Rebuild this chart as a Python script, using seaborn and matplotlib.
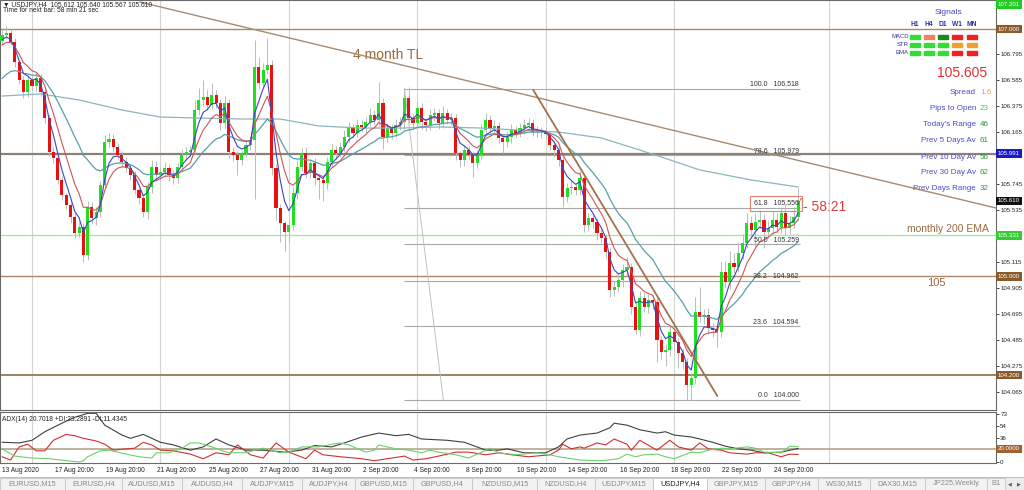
import numpy as np
import pandas as pd
import matplotlib
matplotlib.use("Agg")
import matplotlib.pyplot as plt
import matplotlib.transforms as mtransforms
from matplotlib.patches import Rectangle
import seaborn as sns

# --- 1. DATA (USDJPY H4) ---
first_open = 106.900
closes = [
    106.952, 106.968, 106.895, 106.733, 106.588, 106.491, 106.588, 106.539, 106.604, 106.491,
    106.280, 106.005, 105.957, 105.779, 105.657, 105.577, 105.479, 105.350, 105.399, 105.172,
    105.560, 105.471, 105.520, 105.738, 106.086, 106.110, 106.046, 105.981, 105.924, 105.876,
    105.819, 105.698, 105.633, 105.520, 105.722, 105.884, 105.819, 105.844, 105.876, 105.819,
    105.795, 105.884, 105.981, 106.005, 106.021, 106.345, 106.426, 106.450, 106.386, 106.466,
    106.402, 106.240, 106.402, 106.005, 105.981, 105.941, 105.997, 106.062, 106.102, 106.693,
    106.564, 106.669, 106.709, 105.876, 105.552, 105.431, 105.358, 105.415, 105.674, 105.884,
    105.997, 105.835, 105.916, 105.795, 105.779, 105.755, 105.924, 106.021, 105.997, 106.046,
    106.127, 106.199, 106.159, 106.224, 106.208, 106.248, 106.305, 106.264, 106.402, 106.127,
    106.199, 106.159, 106.224, 106.248, 106.442, 106.280, 106.240, 106.361, 106.248, 106.224,
    106.305, 106.321, 106.240, 106.321, 106.264, 106.280, 105.997, 105.941, 106.021, 105.981,
    105.916, 105.981, 106.183, 106.264, 106.199, 106.216, 106.119, 106.086, 106.127, 106.183,
    106.159, 106.199, 106.224, 106.240, 106.167, 106.175, 106.167, 106.151, 106.062, 106.021,
    105.941, 105.641, 105.714, 105.722, 105.698, 105.795, 105.415, 105.471, 105.439, 105.350,
    105.310, 105.196, 104.889, 104.913, 104.970, 105.051, 105.075, 104.751, 104.565, 104.824,
    104.751, 104.808, 104.792, 104.484, 104.387, 104.403, 104.549, 104.468, 104.379, 104.306,
    104.120, 104.177, 104.711, 104.670, 104.687, 104.581, 104.565, 104.549, 105.035, 104.954,
    105.107, 105.075, 105.188, 105.269, 105.431, 105.374, 105.439, 105.455, 105.358, 105.390,
    105.455, 105.399, 105.512, 105.390, 105.431, 105.479, 105.610,
]
# wick lengths in pips above / below the body
up_wick = [
    4, 6, 3, 3, 2, 3, 4, 3, 5, 3,
    2, 3, 4, 3, 3, 2, 3, 3, 4, 3,
    5, 4, 4, 3, 6, 5, 4, 3, 3, 4,
    3, 3, 2, 3, 4, 6, 5, 4, 5, 3,
    4, 3, 5, 4, 3, 8, 10, 14, 6, 10,
    4, 3, 6, 3, 4, 3, 2, 4, 3, 22,
    8, 6, 22, 4, 3, 3, 2, 4, 5, 6,
    4, 5, 3, 4, 3, 3, 4, 5, 3, 4,
    6, 5, 3, 5, 4, 4, 6, 4, 17, 4,
    4, 3, 5, 4, 8, 9, 3, 5, 4, 3,
    5, 4, 3, 6, 3, 4, 3, 2, 4, 3,
    3, 4, 5, 6, 4, 5, 3, 3, 4, 5,
    3, 4, 5, 4, 3, 4, 3, 3, 2, 3,
    3, 2, 4, 5, 3, 6, 3, 4, 3, 3,
    3, 2, 4, 5, 6, 5, 8, 3, 3, 6,
    4, 5, 4, 3, 3, 5, 6, 4, 3, 3,
    3, 4, 12, 20, 5, 6, 4, 5, 8, 9,
    10, 8, 9, 7, 8, 6, 7, 8, 5, 6,
    7, 6, 5, 7, 6, 8, 10,
]
dn_wick = [
    3, 3, 2, 4, 3, 5, 4, 3, 4, 3,
    4, 3, 4, 3, 4, 3, 5, 4, 3, 6,
    4, 5, 6, 4, 3, 4, 3, 3, 4, 3,
    4, 3, 5, 4, 6, 5, 4, 3, 4, 5,
    5, 4, 3, 4, 3, 3, 4, 5, 4, 3,
    4, 6, 4, 5, 5, 12, 4, 3, 4, 48,
    5, 4, 3, 6, 10, 15, 15, 8, 4, 5,
    3, 4, 4, 6, 15, 15, 5, 4, 5, 3,
    4, 5, 4, 3, 4, 5, 3, 4, 5, 10,
    4, 5, 3, 4, 6, 4, 5, 4, 6, 5,
    4, 5, 5, 4, 3, 4, 6, 6, 5, 4,
    11, 4, 3, 5, 4, 3, 4, 9, 4, 5,
    4, 3, 5, 4, 3, 4, 5, 3, 4, 6,
    5, 8, 4, 5, 4, 4, 6, 5, 5, 6,
    4, 5, 6, 5, 4, 6, 5, 6, 3, 5,
    4, 5, 6, 18, 6, 11, 5, 6, 12, 6,
    12, 12, 5, 4, 6, 5, 6, 12, 4, 5,
    6, 5, 4, 5, 4, 6, 14, 5, 13, 5,
    6, 5, 5, 6, 5, 4, 3,
]

# moving averages: value of each EMA just before the first visible bar
fast_span, mid_span, slow_span = 4, 8, 21
fast_seed, mid_seed, slow_seed = 106.887, 106.847, 106.564
long_ema_bars = [0, 9, 18, 28, 37, 46, 56, 65, 74, 84, 93, 102, 112, 116, 130, 140, 149, 154, 163, 175, 186]
long_ema_vals = [106.458, 106.475, 106.426, 106.345, 106.288, 106.280, 106.272, 106.272, 106.216, 106.199,
                 106.199, 106.208, 106.199, 106.191, 106.167, 106.119, 106.021, 105.965, 105.860, 105.779, 105.722]

# ADX(14) panel
adx_bars = [0, 4, 7, 10, 14, 17, 20, 22, 24, 28, 30, 32, 33, 37, 40, 44, 47, 50, 53, 57,
            61, 66, 70, 73, 77, 80, 84, 88, 92, 95, 98, 104, 108, 113, 116, 118, 122, 127, 130, 132,
            135, 139, 142, 143, 146, 149, 153, 155, 157, 161, 163, 166, 169, 172, 175, 178, 182, 186]
adx_vals = [30, 29, 33, 46, 59, 68, 74, 74, 56, 41, 36, 40, 42, 30, 26, 18, 23, 35, 26, 18,
            18, 15, 18, 25, 23, 29, 38, 44, 40, 42, 35, 33, 30, 18, 18, 20, 14, 14, 23, 35,
            41, 44, 52, 59, 56, 49, 44, 46, 41, 38, 35, 30, 24, 20, 18, 14, 15, 20.7]
mdi_bars = [0, 2, 4, 6, 8, 10, 12, 15, 17, 19, 22, 24, 26, 29, 31, 33, 35, 37, 40, 44,
            47, 50, 53, 55, 58, 61, 64, 67, 71, 73, 75, 79, 84, 87, 91, 94, 96, 99, 102, 106,
            109, 113, 116, 119, 123, 128, 130, 131, 133, 135, 136, 139, 141, 143, 146, 147, 149, 153, 156, 158,
            161, 163, 165, 168, 170, 174, 176, 179, 182, 184, 186]
mdi_vals = [8, 3, 23, 27, 17, 17, 33, 42, 40, 36, 32, 27, 18, 20, 21, 30, 26, 18, 17, 12,
            5, 14, 11, 26, 11, 6, 29, 15, 5, 18, 11, 8, 5, 2, 6, 9, 3, 5, 9, 15,
            15, 11, 14, 11, 8, 11, 18, 27, 20, 23, 21, 29, 26, 35, 27, 18, 33, 18, 33, 23,
            18, 29, 20, 18, 14, 12, 14, 14, 8, 12, 11.4]
pdi_bars = [0, 3, 7, 11, 18, 19, 20, 23, 25, 29, 32, 35, 36, 39, 42, 44, 46, 49, 51, 53,
            57, 59, 61, 65, 67, 70, 74, 77, 79, 81, 85, 87, 88, 92, 95, 98, 100, 102, 106, 109,
            112, 114, 116, 120, 125, 128, 130, 135, 140, 144, 146, 148, 150, 153, 155, 157, 161, 163, 165, 168,
            170, 174, 176, 178, 182, 184, 186]
pdi_vals = [20, 9, 6, 5, 0, 2, 8, 17, 18, 12, 8, 6, 14, 14, 21, 29, 29, 23, 18, 14,
            14, 18, 21, 14, 15, 23, 23, 27, 29, 26, 15, 18, 26, 20, 18, 14, 18, 15, 11, 6,
            15, 21, 14, 11, 14, 11, 8, 3, 2, 5, 12, 8, 11, 12, 8, 5, 15, 14, 18, 21,
            20, 23, 21, 15, 14, 24, 23.3]
adx_level = 20

# drawn objects
fib_levels = [100.0, 78.6, 61.8, 50.0, 38.2, 23.6, 0.0]
fib_prices = [106.518, 105.979, 105.556, 105.259, 104.962, 104.594, 104.000]
fib_span = [94, 186.5]
fib_anchor_bars = [94, 103.1]
fib_anchor_prices = [106.518, 104.000]
tl4m_bars = [32.2, 232.2]
tl4m_prices = [107.219, 105.552]
tl_down_bars = [124.1, 167.1]
tl_down_prices = [106.507, 104.031]
level_prices = [107.000, 105.991, 105.331, 105.000, 104.200]
level_colors = ["#a8876a", "#8c8078", "#a8e6a8", "#a8876a", "#a0805f"]
level_widths = [1.0, 1.6, 1.0, 1.0, 1.4]

axis_ticks = [106.795, 106.585, 106.375, 106.165, 105.745, 105.535,
              105.115, 104.905, 104.695, 104.485, 104.275, 104.065]
box_prices = [107.201, 107.000, 105.991, 105.610, 105.331, 105.000, 104.200]
box_colors = ["#22cc22", "#8b5a2b", "#1a1acc", "#111111", "#33cc33", "#8b5a2b", "#8b5a2b"]
adx_ticks = [73, 54, 36, 18, 0]

date_bars = [0, 13, 25, 37, 49, 61, 73, 85, 97, 109, 121, 133, 145, 157, 169, 181]
date_labels = ["13 Aug 2020", "17 Aug 20:00", "19 Aug 20:00", "21 Aug 20:00", "25 Aug 20:00",
               "27 Aug 20:00", "31 Aug 20:00", "2 Sep 20:00", "4 Sep 20:00", "8 Sep 20:00",
               "10 Sep 20:00", "14 Sep 20:00", "16 Sep 20:00", "18 Sep 20:00", "22 Sep 20:00",
               "24 Sep 20:00"]
grid_bars = [7, 37, 67, 97, 127, 157, 193.2]

stat_labels = ["Spread", "Pips to Open", "Today's Range", "Prev 5 Days Av",
               "Prev 10 Day Av", "Prev 30 Day Av", "Prev Days Range"]
stat_values = ["1.6", "23", "46", "61", "56", "62", "32"]
stat_colors = ["#e8a040", "#3ad23a", "#2a9a2a", "#2a9a2a", "#2a9a2a", "#2a9a2a", "#2a9a2a"]
signal_cols = ["H1", "H4", "D1", "W1", "MN"]
signal_rows = ["MACD", "STR", "EMA"]
signal_colors = [
    ["#33dd33", "#f08060", "#1a8a1a", "#ee2222", "#ee2222"],
    ["#33dd33", "#33dd33", "#33dd33", "#f0a030", "#f0a030"],
    ["#33dd33", "#33dd33", "#33dd33", "#ee2222", "#ee2222"],
]

tab_names = ["EURUSD,M15", "EURUSD,H4", "AUDUSD,M15", "AUDUSD,H4", "AUDJPY,M15", "AUDJPY,H4",
             "GBPUSD,M15", "GBPUSD,H4", "NZDUSD,M15", "NZDUSD,H4", "USDJPY,M15", "USDJPY,H4",
             "GBPJPY,M15", "GBPJPY,H4", "WS30,M15", "DAX30,M15", "JP225,Weekly", "B1"]
tab_edges = [0, 65, 122, 182, 242, 302, 355, 413, 472, 537, 595, 653, 707, 765, 818, 870, 925, 987, 1005]
active_tab = "USDJPY,H4"

# --- 2. PREPARE ---
df = pd.DataFrame({"close": closes})
df["bar"] = np.arange(len(df))
df["open"] = [first_open] + closes[:-1]
df["high"] = df[["open", "close"]].max(axis=1) + np.array(up_wick) / 100
df["low"] = df[["open", "close"]].min(axis=1) - np.array(dn_wick) / 100


def ema(values, span, seed):
    a = 2 / (span + 1)
    out, e = [], seed
    for v in values:
        e = e + a * (v - e)
        out.append(e)
    return out


df["ema_fast"] = ema(closes, fast_span, fast_seed)
df["ema_mid"] = ema(closes, mid_span, mid_seed)
df["ema_slow"] = ema(closes, slow_span, slow_seed)

# --- 3. PLOTTING ---
sns.set_theme(style="white")
plt.rcParams["font.family"] = ["Liberation Sans", "DejaVu Sans"]

W, H = 1024, 490
fig = plt.figure(figsize=(W / 100, H / 100), dpi=100)
ax = fig.add_axes([0, 1 - 410 / H, 996 / W, 410 / H])
ax2 = fig.add_axes([0, 1 - 463 / H, 996 / W, 51 / H], sharex=ax)

xlim = (-0.47, 232.2)
ax.set_xlim(*xlim)
ax.set_ylim(103.918, 107.235)
ax2.set_ylim(-1.5, 76)

for a in (ax, ax2):
    for b in grid_bars:
        a.axvline(b, color="#d4d4d4", lw=0.8, zorder=0)
    for s in a.spines.values():
        s.set_color("#6a6a6a")
        s.set_linewidth(0.8)

# horizontal levels
for p, c, w in zip(level_prices, level_colors, level_widths):
    ax.axhline(p, color=c, lw=w, zorder=1)

# fibonacci
ax.hlines(fib_prices, fib_span[0], fib_span[1], color="#a8a8a8", lw=0.8, zorder=1)
ax.plot(fib_anchor_bars, fib_anchor_prices, color="#c0c0c0", lw=0.7, zorder=1)
for lvl, p in zip(fib_levels, fib_prices):
    box = None
    if lvl == 61.8:
        box = dict(boxstyle="square,pad=0.55", fc="none", ec="#e88070", lw=0.8)
    ax.text(fib_span[1] - 0.4, p + 0.006, f"{lvl:.1f}   {p:.3f}", ha="right", va="bottom",
            fontsize=5, color="#333333", bbox=box, zorder=5)

# candles
bull = df["close"] >= df["open"]
ax.vlines(df["bar"], df["low"], df["high"], color="#b9bdb9", lw=0.7, zorder=2)
ax.bar(df["bar"], np.maximum((df["close"] - df["open"]).abs(), 0.006),
       bottom=df[["open", "close"]].min(axis=1), width=0.72,
       color=np.where(bull, "#1fe01f", "#e81010"), linewidth=0, zorder=3)

# moving averages
sns.lineplot(x=long_ema_bars, y=long_ema_vals, ax=ax, color="#8cb6bc", lw=0.9, zorder=4)
sns.lineplot(data=df, x="bar", y="ema_slow", ax=ax, color="#5a9eab", lw=0.9, zorder=4)
sns.lineplot(data=df, x="bar", y="ema_mid", ax=ax, color="#cc5555", lw=0.8, zorder=4)
sns.lineplot(data=df, x="bar", y="ema_fast", ax=ax, color="#3848c0", lw=0.8, zorder=4)

# trendlines
ax.plot(tl4m_bars, tl4m_prices, color="#a88a70", lw=1.0, zorder=4)
ax.plot(tl_down_bars, tl_down_prices, color="#a0724e", lw=1.3, zorder=4)
ax.text(82, 106.79, "4 month TL", fontsize=10, color="#9a6a40", va="center", ha="left")

# countdown next to the last bar
last = df.iloc[-1]
ax.text(last["bar"] + 0.2, 105.59, "^", fontsize=7, color="#e03c3c", ha="left", va="center")
ax.text(last["bar"] + 1.2, 105.56, "- 58:21", fontsize=10, color="#e03c3c", ha="left", va="center")

# price axis
ax.set_xlabel("")
ax.set_ylabel("")
ax.yaxis.tick_right()
ax.set_yticks(axis_ticks)
ax.set_yticklabels([f"{t:.3f}" for t in axis_ticks])
ax.tick_params(axis="y", length=2, width=0.6, labelsize=4.4, pad=1, labelcolor="#222222")
ax.tick_params(axis="x", bottom=False, labelbottom=False)
trans = mtransforms.blended_transform_factory(ax.transAxes, ax.transData)
for p, c in zip(box_prices, box_colors):
    ax.text(1.002, p, f"{p:.3f}", transform=trans, ha="left", va="center", fontsize=4.4,
            color="white", bbox=dict(boxstyle="square,pad=0.3", fc=c, ec="none"), clip_on=False)

# ADX panel
ax2.axhline(adx_level, color="#b4a48e", lw=1.2, zorder=1)
sns.lineplot(x=adx_bars, y=adx_vals, ax=ax2, color="#404040", lw=0.8)
sns.lineplot(x=mdi_bars, y=mdi_vals, ax=ax2, color="#d03030", lw=0.8)
sns.lineplot(x=pdi_bars, y=pdi_vals, ax=ax2, color="#6cd06c", lw=0.8)
ax2.set_xlabel("")
ax2.set_ylabel("")
ax2.yaxis.tick_right()
ax2.set_yticks(adx_ticks)
ax2.set_yticklabels([str(t) for t in adx_ticks])
ax2.tick_params(axis="y", length=2, width=0.6, labelsize=4.4, pad=1, labelcolor="#222222")
trans2 = mtransforms.blended_transform_factory(ax2.transAxes, ax2.transData)
ax2.text(1.002, adx_level, f"{adx_level:.4f}", transform=trans2, ha="left", va="center",
         fontsize=4.4, color="white", bbox=dict(boxstyle="square,pad=0.25", fc="#a0622d", ec="none"),
         clip_on=False, zorder=6)
ax2.text(0.002, 0.93, "ADX(14) 20.7018 +DI:23.2891 -DI:11.4345", transform=ax2.transAxes,
         fontsize=4.8, color="#222222", ha="left", va="top")

ax2.set_xticks(date_bars)
ax2.set_xticklabels(date_labels)
ax2.tick_params(axis="x", bottom=True, length=0, labelsize=4.8, pad=3, labelcolor="#222222")
shift = mtransforms.ScaledTranslation(-3 / 100, 0, fig.dpi_scale_trans)
for i, lbl in enumerate(ax2.get_xticklabels()):
    lbl.set_horizontalalignment("left")
    if i > 0:
        lbl.set_transform(lbl.get_transform() + shift)
ax2.set_xlim(*xlim)


def fx(x):
    return x / W


def fy(y):
    return 1 - y / H


# top-left header
fig.text(fx(3), fy(5), "\u25bc USDJPY,H4  105.612 105.640 105.567 105.610", fontsize=4.8,
         color="#222222", va="center")
fig.text(fx(3), fy(10.5), "Time for next bar: 58 min 21 sec", fontsize=4.8, color="#222222",
         va="center")

# signals panel
fig.text(fx(948), fy(13), "Signals", fontsize=6, color="#4646c8", ha="center", va="center")
col_x = [915, 929, 943, 957, 972]
row_y = [37, 45, 53]
for cx, name in zip(col_x, signal_cols):
    fig.text(fx(cx), fy(25), name, fontsize=4.8, color="#3030a0", ha="center", va="center",
             weight="bold")
for ry, name, cols in zip(row_y, signal_rows, signal_colors):
    fig.text(fx(909), fy(ry), name, fontsize=4.3, color="#3030a0", ha="right", va="center")
    for cx, c in zip(col_x, cols):
        fig.add_artist(Rectangle((fx(cx - 5), fy(ry + 1.7)), 10 / W, 3.4 / H, color=c,
                                 transform=fig.transFigure))

fig.text(fx(987), fy(73), "105.605", fontsize=10, color="#e03030", ha="right", va="center")
stat_y = [92, 108, 125, 141, 157, 173, 189]
for y, lab, val, col in zip(stat_y, stat_labels, stat_values, stat_colors):
    fig.text(fx(976), fy(y), lab, fontsize=5.8, color="#4b4bc8", ha="right", va="center")
    fig.text(fx(980), fy(y), val, fontsize=5.8, color=col, ha="left", va="center")

fig.text(fx(907), fy(229), "monthly 200 EMA", fontsize=7.5, color="#9a6a40", ha="left", va="center")
fig.text(fx(936), fy(283), "105", fontsize=8, color="#9a6a40", ha="center", va="center")

# tab bar
ax3 = fig.add_axes([0, 0, 1, 13 / H])
ax3.set_xlim(0, W)
ax3.set_ylim(0, 13)
ax3.axis("off")
ax3.add_patch(Rectangle((0, 0), W, 13, fc="#ececec", ec="none"))
ax3.axhline(12.6, color="#b8b8b8", lw=0.6)
for name, l, r in zip(tab_names, tab_edges[:-1], tab_edges[1:]):
    active = name == active_tab
    ax3.add_patch(Rectangle((l, 0), r - l, 12.5, fc="white" if active else "#f2f2f2",
                            ec="#c4c4c4", lw=0.6))
    ax3.text((l + r) / 2, 6.2, name, fontsize=5.3, ha="center", va="center",
             color="#202020" if active else "#8a8a8a")
ax3.text(1010, 6.2, "\u25c0", fontsize=3.5, ha="center", va="center", color="#555555",
         family="DejaVu Sans")
ax3.text(1019, 6.2, "\u25b6", fontsize=3.5, ha="center", va="center", color="#555555",
         family="DejaVu Sans")

plt.savefig("out.png", dpi=100)
